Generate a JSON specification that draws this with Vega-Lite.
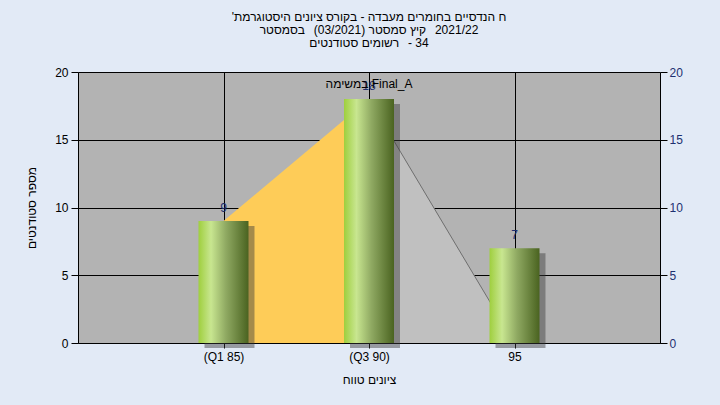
{
  "$schema": "https://vega.github.io/schema/vega-lite/v6.json",
  "width": 582,
  "height": 271,
  "autosize": "none",
  "padding": {"left": 78, "top": 72, "right": 60, "bottom": 62},
  "background": "#e2eaf6",
  "title": {
    "text": [
      "'ח הנדסיים בחומרים מעבדה - בקורס ציונים היסטוגרמת",
      "בסמסטר\u2800(03/2021)  קיץ סמסטר\u28002021/22",
      "רשומים סטודנטים\u2800- 34"
    ],
    "anchor": "middle",
    "fontSize": 12,
    "fontWeight": "normal",
    "font": "Liberation Sans, DejaVu Sans, sans-serif",
    "color": "#000000",
    "lineHeight": 13,
    "offset": 16
  },
  "datasets": {
    "bars": [
      {"cat": "(Q1 85)", "count": 9},
      {"cat": "(Q3 90)", "count": 18},
      {"cat": "95", "count": 7}
    ],
    "areas": [
      {"series": "iqr", "cat": "(Q1 85)", "v": 9},
      {"series": "iqr", "cat": "(Q3 90)", "v": 18},
      {"series": "tail", "cat": "(Q3 90)", "v": 18},
      {"series": "tail", "cat": "95", "v": 0}
    ],
    "note": [
      {"cat": "(Q3 90)", "label": "במשימה    Final_A"}
    ]
  },
  "config": {
    "view": {"fill": "#b3b3b3", "stroke": null},
    "font": "Liberation Sans, DejaVu Sans, sans-serif",
    "axis": {
      "domainColor": "#000000",
      "tickColor": "#000000",
      "gridColor": "#000000",
      "gridOpacity": 1,
      "labelFontSize": 12,
      "titleFontSize": 12,
      "titleFontWeight": "normal",
      "labelColor": "#000000",
      "titleColor": "#000000"
    }
  },
  "resolve": {"scale": {"y": "shared"}, "axis": {"y": "independent"}},
  "layer": [
    {
      "data": {"name": "areas"},
      "transform": [{"filter": "datum.series === 'tail'"}],
      "mark": {"type": "area", "color": "#c0c0c0", "opacity": 1, "line": {"color": "#6e6e6e", "strokeWidth": 1}},
      "encoding": {
        "x": {
          "field": "cat", "type": "nominal", "sort": ["(Q1 85)", "(Q3 90)", "95"],
          "scale": {"type": "point", "padding": 1, "domain": ["(Q1 85)", "(Q3 90)", "95"]},
          "axis": {"title": "ציונים טווח", "labelAngle": 0, "grid": true, "tickSize": 5, "labelPadding": 3, "titlePadding": 12}
        },
        "y": {"field": "v", "type": "quantitative", "scale": {"domain": [0, 20]}, "axis": null}
      }
    },
    {
      "data": {"name": "areas"},
      "transform": [{"filter": "datum.series === 'iqr'"}],
      "mark": {"type": "area", "color": "#fecc58", "opacity": 1},
      "encoding": {
        "x": {"field": "cat", "type": "nominal", "sort": ["(Q1 85)", "(Q3 90)", "95"]},
        "y": {"field": "v", "type": "quantitative", "axis": null}
      }
    },
    {
      "data": {"name": "bars"},
      "mark": {"type": "bar", "width": 50, "color": "#3a3a3a", "opacity": 0.45, "xOffset": 6, "yOffset": 5},
      "encoding": {
        "x": {"field": "cat", "type": "nominal", "sort": ["(Q1 85)", "(Q3 90)", "95"]},
        "y": {"field": "count", "type": "quantitative", "axis": null}
      }
    },
    {
      "data": {"name": "bars"},
      "mark": {
        "type": "bar",
        "width": 50,
        "color": {
          "gradient": "linear", "x1": 0, "x2": 1, "y1": 0, "y2": 0,
          "stops": [
            {"offset": 0, "color": "#9fcf3e"},
            {"offset": 0.25, "color": "#c8e690"},
            {"offset": 0.55, "color": "#8fa962"},
            {"offset": 1, "color": "#4a6320"}
          ]
        }
      },
      "encoding": {
        "x": {"field": "cat", "type": "nominal", "sort": ["(Q1 85)", "(Q3 90)", "95"]},
        "y": {
          "field": "count", "type": "quantitative",
          "axis": {"title": "מספר סטודנטים", "values": [0, 5, 10, 15, 20], "grid": true, "tickSize": 7, "labelPadding": 3, "titlePadding": 16}
        }
      }
    },
    {
      "data": {"name": "bars"},
      "mark": {"type": "text", "baseline": "bottom", "dy": -6, "fontSize": 12, "color": "#1d2f6e"},
      "encoding": {
        "x": {"field": "cat", "type": "nominal", "sort": ["(Q1 85)", "(Q3 90)", "95"]},
        "y": {
          "field": "count", "type": "quantitative",
          "axis": {"orient": "right", "title": null, "values": [0, 5, 10, 15, 20], "grid": false, "tickSize": 7, "labelPadding": 2, "labelColor": "#1d3070"}
        },
        "text": {"field": "count", "type": "quantitative"}
      }
    },
    {
      "data": {"name": "note"},
      "mark": {"type": "text", "baseline": "middle", "fontSize": 12, "color": "#000000"},
      "encoding": {
        "x": {"field": "cat", "type": "nominal", "sort": ["(Q1 85)", "(Q3 90)", "95"]},
        "y": {"datum": 19.1, "axis": null},
        "text": {"field": "label"}
      }
    }
  ]
}
